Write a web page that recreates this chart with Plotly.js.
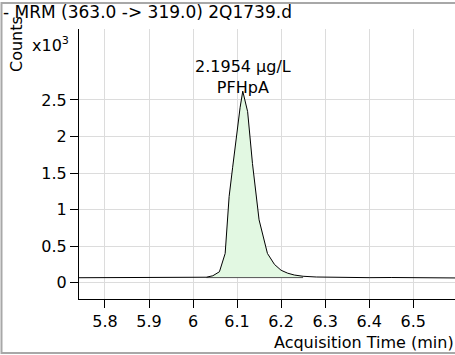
<!DOCTYPE html>
<html>
<head>
<meta charset="utf-8">
<script src="https://cdn.plot.ly/plotly-3.0.1.min.js"></script>
<style>
html,body{margin:0;padding:0;background:#fff;}
#chart{width:455px;height:355px;}
</style>
</head>
<body>
<div id="chart"></div>
<script>
// Acquisition time (min) and counts (x10^3)
const timeMin = [5.74, 5.78, 5.82, 5.86, 5.90, 5.94, 5.98, 6.01, 6.03, 6.045, 6.06, 6.073, 6.082, 6.09, 6.10, 6.107, 6.113, 6.119, 6.124, 6.135, 6.15, 6.169, 6.185, 6.20, 6.215, 6.23, 6.25, 6.28, 6.32, 6.36, 6.40, 6.45, 6.50, 6.55, 6.595];
const countsK = [0.068, 0.068, 0.069, 0.070, 0.071, 0.070, 0.069, 0.069, 0.075, 0.095, 0.15, 0.40, 1.18, 1.58, 2.09, 2.40, 2.62, 2.45, 2.34, 1.63, 0.86, 0.40, 0.25, 0.17, 0.13, 0.105, 0.088, 0.078, 0.073, 0.070, 0.069, 0.071, 0.067, 0.066, 0.065];
const peakStart = 6.03, peakEnd = 6.25, peakBaseline = 0.07;
const yTickVals = [0, 0.5, 1, 1.5, 2, 2.5];
const yTickText = ["0", "0.5", "1", "1.5", "2", "2.5"];
const yUnlabelledTicks = [3];
const peakLabel = "2.1954 µg/L<br>PFHpA";
const peakApexTime = 6.113;
const titleText = "- MRM (363.0 -> 319.0) 2Q1739.d";

const pkX = [], pkY = [];
timeMin.forEach((t, i) => { if (t >= peakStart && t <= peakEnd) { pkX.push(t); pkY.push(countsK[i]); } });

const FONT = "DejaVu Sans, Liberation Sans, Arial, sans-serif";
const traces = [
  {x: [peakStart, peakEnd], y: [peakBaseline, peakBaseline], mode: 'lines', line: {color: '#555', width: 1}, hoverinfo: 'skip', showlegend: false},
  {x: pkX, y: pkY, mode: 'lines', fill: 'tonexty', fillcolor: '#e2f8e2', line: {width: 0}, hoverinfo: 'skip', showlegend: false},
  {x: timeMin, y: countsK, mode: 'lines', line: {color: '#000', width: 1}, showlegend: false}
];
const L = 79, R = 0, T = 29, B = 56, W = 455, H = 355;
const pw = W - L - R, ph = H - T - B;
const px = v => (v - L) / pw;
const py = v => (H - B - v) / ph;
const yRange = [-0.223, 3.471];
const yCommon = {range: yRange, ticks: 'outside', ticklen: 8, tickcolor: '#000', showgrid: true, gridcolor: '#dcdcdc', zeroline: false, tickfont: {size: 16}};
const layout = {
  width: W, height: H,
  margin: {l: L, r: R, t: T, b: B, pad: 0},
  paper_bgcolor: '#fff', plot_bgcolor: '#fff',
  font: {family: FONT, size: 16, color: '#000'},
  title: {text: titleText, x: 3 / W, xanchor: 'left', xref: 'container', y: 1 - 12 / H, yanchor: 'middle', yref: 'container', font: {family: FONT, size: 17, color: '#000'}},
  xaxis: {range: [5.741, 6.595], tick0: 5.8, dtick: 0.1, ticks: 'outside', ticklen: 8, tickcolor: '#000', showline: true, linecolor: '#000', linewidth: 1, showgrid: true, gridcolor: '#dcdcdc', zeroline: false, tickfont: {size: 16}},
  yaxis: Object.assign({}, yCommon, {tickvals: yTickVals, ticktext: yTickText, showline: true, linecolor: '#000', linewidth: 1}),
  yaxis2: Object.assign({}, yCommon, {overlaying: 'y', side: 'left', tickvals: yUnlabelledTicks, showticklabels: false, showline: false}),
  annotations: [
    {text: peakLabel, x: peakApexTime, y: py(77), xref: 'x', yref: 'paper', xanchor: 'center', yanchor: 'middle', showarrow: false, borderpad: 0, font: {size: 16}},
    {text: 'Counts', textangle: -90, xref: 'paper', yref: 'paper', x: px(16), y: py(44), xanchor: 'center', yanchor: 'middle', showarrow: false, font: {size: 16}},
    {text: 'x10<sup>3</sup>', xref: 'paper', yref: 'paper', x: px(30), y: py(45), xanchor: 'left', yanchor: 'middle', showarrow: false, font: {size: 16}},
    {text: 'Acquisition Time (min)', xref: 'paper', yref: 'paper', x: px(456), y: py(342), xanchor: 'right', yanchor: 'middle', showarrow: false, font: {size: 16}}
  ],
  shapes: [
    {type: 'rect', xref: 'paper', yref: 'paper', x0: px(1.5), x1: px(456), y0: py(353), y1: py(3), line: {color: '#a8a8a8', width: 2}, layer: 'above'}
  ]
};
Plotly.newPlot('chart', traces, layout, {staticPlot: true, displayModeBar: false});
</script>
</body>
</html>
